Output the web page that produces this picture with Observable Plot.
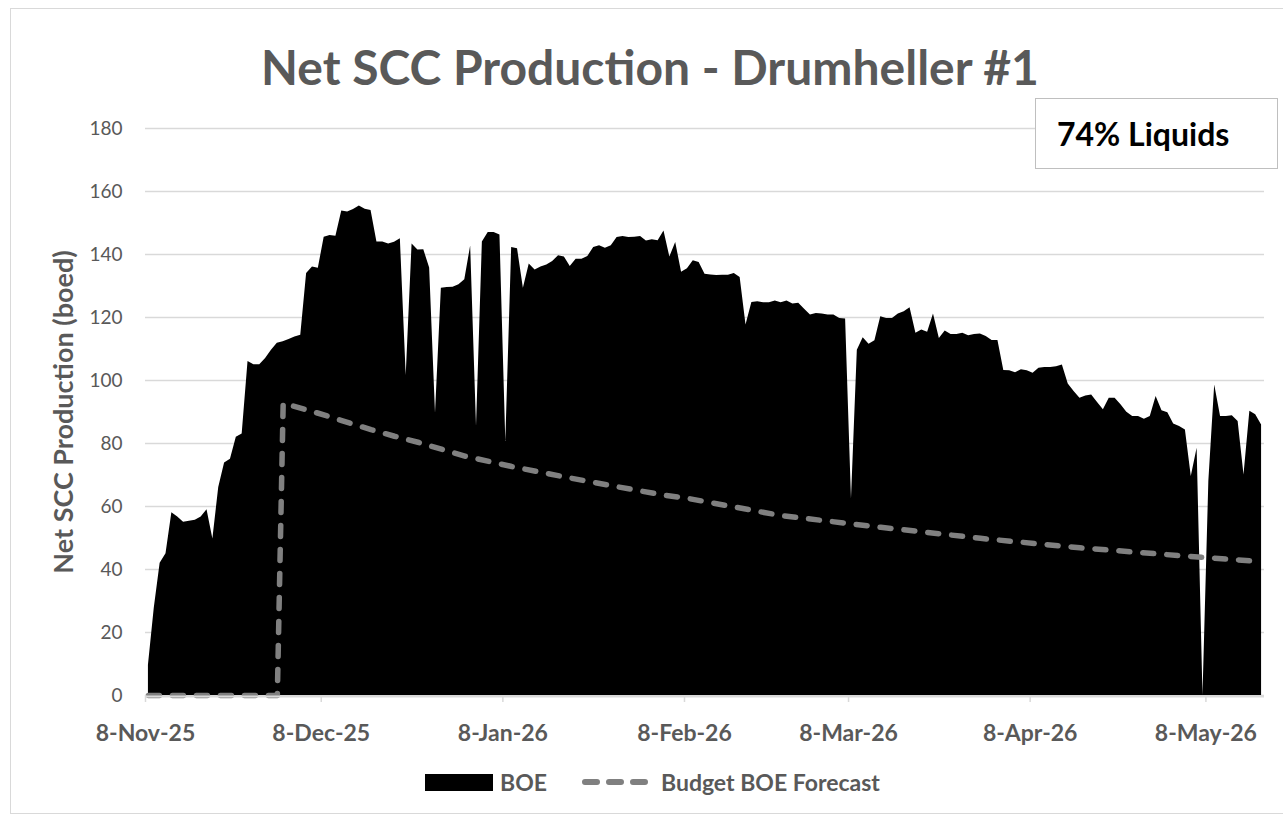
<!DOCTYPE html>
<html>
<head>
<meta charset="utf-8">
<script src="https://cdn.jsdelivr.net/npm/d3@7"></script>
<script src="https://cdn.jsdelivr.net/npm/@observablehq/plot@0.6"></script>
<style>
  html, body { margin: 0; padding: 0; background: #fff; }
  #wrap { position: relative; width: 1283px; height: 824px; overflow: hidden; font-family: Lato, "Open Sans", sans-serif; }
  #frame { position: absolute; left: 10px; top: 8px; width: 1280px; height: 806px; border: 1px solid #d9d9d9; box-sizing: border-box; }
  #title { position: absolute; left: 0; width: 1300px; top: 43px; text-align: center; font-size: 48px; font-weight: 700; color: #595959; line-height: 1; }
  #chart { position: absolute; left: 0; top: 0; }
  #ylabel { position: absolute; left: 62px; top: 412px; transform: translate(-50%, -50%) rotate(-90deg); white-space: nowrap; font-size: 27px; font-weight: 700; color: #595959; }
  #box { position: absolute; left: 1035px; top: 98px; width: 243px; height: 71px; border: 1.5px solid #bfbfbf; box-sizing: border-box; background: #fff; display: flex; align-items: center; padding-left: 21px; font-size: 32px; font-weight: 700; color: #000; }
  #legend { position: absolute; top: 768px; left: 425px; display: flex; align-items: center; font-size: 23px; font-weight: 700; color: #595959; }
  .sw-area { width: 68px; height: 17px; background: #000; margin-right: 7px; }
</style>
</head>
<body>
<div id="wrap">
  <div id="frame"></div>
  <div id="chart"></div>
  <div id="title">Net SCC Production - Drumheller #1</div>
  <div id="ylabel">Net SCC Production (boed)</div>
  <div id="box">74% Liquids</div>
  <div id="legend">
    <div class="sw-area"></div><span>BOE</span>
    <svg width="80" height="20" style="margin-left:34px;margin-right:0px"><line x1="4" y1="10" x2="66" y2="10" stroke="#808080" stroke-width="6" stroke-dasharray="12,12" stroke-linecap="round"/></svg>
    <span>Budget BOE Forecast</span>
  </div>
</div>
<script>
// ---- Data ----
const startDate = "2025-11-08";           // first daily value
const endDate = "2026-05-18";             // end of the date axis
const boeValues = [
  9.6, 27.8, 42, 45, 58, 56.7, 55, 55.3, 55.6, 56.7,
  59, 49.7, 66, 73.8, 75, 82, 83, 106, 105, 105,
  107, 109.6, 111.8, 112.3, 113, 113.8, 114.4, 134, 136, 135.6,
  145.5, 146, 145.8, 153.8, 153.5, 154.3, 155.4, 154.4, 154, 144,
  144, 143.3, 143.9, 145, 101.6, 143.3, 141.4, 141.5, 135.7, 89.6,
  129.3, 129.5, 129.6, 130.4, 132, 142.7, 85.4, 144, 147, 147,
  146.2, 80.6, 142.2, 141.8, 129.3, 137, 135.1, 136, 136.7, 137.8,
  139.6, 139.2, 136.2, 138.5, 138.5, 139.4, 142.2, 142.8, 142, 142.8,
  145.4, 145.7, 145.4, 145.5, 145.7, 144.3, 144.7, 144.4, 147.5, 139.2,
  143.8, 134.4, 135.5, 138, 137.5, 133.7, 133.5, 133.3, 133.4, 133.4,
  134, 132.7, 117.6, 124.8, 125, 124.7, 124.7, 125.2, 124.7, 125.2,
  124.3, 124.5, 122.6, 120.8, 121.3, 121.1, 120.8, 120.8, 119.7, 119.5,
  62.4, 109.6, 113.6, 111.5, 112.6, 120.2, 119.7, 119.7, 121.1, 121.8,
  123.1, 115, 116, 115.3, 121.1, 113.3, 115.7, 114.6, 114.6, 115,
  114.2, 114.6, 114.8, 114, 112.7, 112.7, 103.2, 103.1, 102.5, 103.4,
  103.1, 102.3, 103.9, 104.1, 104.1, 104.4, 104.9, 98.9, 96.5, 94.4,
  95.1, 95.4, 93, 90.7, 94.4, 94.4, 92.3, 89.9, 88.6, 88.6,
  87.7, 88.6, 94.9, 90.4, 89.8, 86.2, 85.4, 84.3, 69.5, 78.5,
  0, 68, 98.6, 88.6, 88.6, 88.8, 87, 70, 90.2, 89.1,
  85.9
];
// Budget forecast: values read at these day offsets from startDate
const forecastDays = [0, 22, 23, 29, 33, 38, 42, 46, 54, 62, 71, 79, 88, 92, 108, 125, 142, 159, 176, 190];
const forecastValues = [0, 0, 92.8, 89.6, 87.3, 84.4, 82.3, 80.4, 76.0, 72.7, 69.4, 66.6, 63.6, 62.6, 57.1, 53.4, 49.9, 46.9, 44.4, 42.5];
const xTickDates = ["2025-11-08", "2025-12-08", "2026-01-08", "2026-02-08", "2026-03-08", "2026-04-08", "2026-05-08"];
const yTicks = [0, 20, 40, 60, 80, 100, 120, 140, 160, 180];

// ---- Build tables ----
const t0 = new Date(startDate + "T00:00:00Z");
const dayAt = (d) => d3.utcHour.offset(t0, 24 * d + 12); // points sit in the middle of each day
const boe = boeValues.map((v, i) => ({date: dayAt(i), value: v}));
const forecast = forecastDays.map((d, i) => ({date: dayAt(d), value: forecastValues[i]}));
const xTicks = xTickDates.map(s => new Date(s + "T00:00:00Z"));
const fmt = d3.utcFormat("%-d-%b-%y");

const chart = Plot.plot({
  width: 1283,
  height: 760,
  marginLeft: 145,
  marginRight: 19,
  marginTop: 128,
  marginBottom: 65,
  style: {fontFamily: "Lato, 'Open Sans', sans-serif", background: "transparent", overflow: "visible"},
  x: {type: "utc", domain: [t0, new Date(endDate + "T00:00:00Z")]},
  y: {domain: [0, 180]},
  marks: [
    Plot.ruleY(yTicks, {stroke: "#d9d9d9", strokeWidth: 1.5}),
    Plot.areaY(boe, {x: "date", y: "value", fill: "#000"}),
    Plot.lineY(forecast, {x: "date", y: "value", stroke: "#808080", strokeWidth: 5.5, strokeDasharray: "11,13", strokeLinecap: "round", strokeLinejoin: "round"}),
    Plot.ruleY([0], {stroke: "#d9d9d9", strokeWidth: 2, dy: 1}),
    Plot.axisX({ticks: xTicks, tickFormat: fmt, tickSize: 7, tickPadding: 22, stroke: "#d9d9d9", strokeWidth: 1.5, fill: "#595959", fontSize: 23, fontWeight: 700, label: null}),
    Plot.axisY({ticks: yTicks, tickSize: 0, tickPadding: 23, fill: "#595959", fontSize: 19, label: null})
  ]
});
document.getElementById("chart").appendChild(chart);
</script>
</body>
</html>
